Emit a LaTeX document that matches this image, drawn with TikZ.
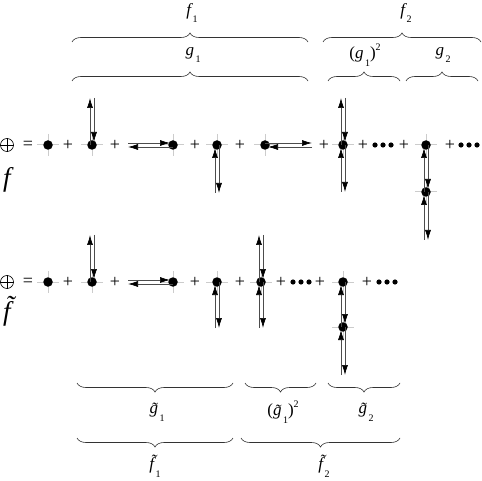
\documentclass[tikz,border=0pt]{standalone}
\usepackage{fontspec}
\setmainfont{Liberation Serif}
\usetikzlibrary{arrows.meta,decorations.pathreplacing,calc}

% lowered index and superscript for the labels
\newcommand{\idx}[1]{\kern1.5pt\raisebox{-0.45em}{\fontsize{10}{11}\selectfont\upshape #1}}
\newcommand{\pw}[1]{\raisebox{0.5em}{\fontsize{10}{11}\selectfont\upshape #1}}

% vertex: name, x, y (grey legs first, dot on top)
\newcommand{\vertex}[3]{%
  \draw[leg] (#2,#3) ++(-11,0) -- ++(22,0) (#2,#3) ++(0,-11) -- ++(0,22);
  \node[vtx] (#1) at (#2,#3) {};}
% propagator loop from vertex #1 to point #2 (out on the left, back on the right)
\newcommand{\proploop}[3][0pt]{%
  \draw[prop,shorten >=#1] ($(#2.center)!2pt!90:(#3)$) -- ($(#3)!2pt!-90:(#2.center)$);
  \draw[prop,shorten >=3pt] ($(#3)!2pt!90:(#2.center)$) -- ($(#2.center)!2pt!-90:(#3)$);}

\begin{document}
\begin{tikzpicture}[x=1pt,y=-1pt,
  vtx/.style={circle,fill,inner sep=0pt,minimum size=9.5pt},
  leg/.style={draw=gray!40,line width=1pt},
  prop/.style={black!70,line width=0.7pt,-{Latex[length=10pt,width=6pt,fill=black,color=black]}},
  plus/.style={font=\fontsize{18}{18}\selectfont},
  brc/.style={decorate,decoration={brace,amplitude=9pt},line width=0.6pt,black!80},
  lbl/.style={font=\fontsize{17}{19}\selectfont\itshape},
  big/.style={font=\fontsize{27}{29}\selectfont\itshape}]
\useasboundingbox[fill=white] (0,0) rectangle (482,481);

% Row f
\node[circle,draw,inner sep=0pt,minimum size=13pt,line width=0.6pt] (oa) at (7,145) {};
\draw[line width=0.6pt] (oa.north) -- (oa.south) (oa.west) -- (oa.east);
\node[plus] (eqa) at (28,145) {=};
\node[big] (fa) at (7,180) {f};
\vertex{a1}{48}{145}
\vertex{a2}{92}{145}
\vertex{a3}{173}{145}
\vertex{a4}{217}{145}
\vertex{a5}{265}{145}
\vertex{a6}{343}{145}
\vertex{a7}{426}{145}
\vertex{a8}{426}{192}
\coordinate (a2e) at (92,98);
\coordinate (a3e) at (128,145);
\coordinate (a4e) at (217,193);
\coordinate (a5e) at (312,145);
\coordinate (a6u) at (343,98);
\coordinate (a6d) at (343,192);
\coordinate (a8e) at (426,240);
\proploop{a2}{a2e}
\proploop{a3}{a3e}
\proploop{a4}{a4e}
\proploop{a5}{a5e}
\proploop{a6}{a6u}
\proploop{a6}{a6d}
\proploop[3pt]{a7}{a8.center}
\proploop{a8}{a8e}
\foreach \x [count=\i] in {68,115,195,240,324,363,404,450}
  \node[plus] (pa\i) at (\x,145) {+};
\foreach \x in {375,383,391,461,469,477}
  \fill (\x,145) circle (2.6);

% Row f tilde
\node[circle,draw,inner sep=0pt,minimum size=13pt,line width=0.6pt] (ob) at (7,282) {};
\draw[line width=0.6pt] (ob.north) -- (ob.south) (ob.west) -- (ob.east);
\node[plus] (eqb) at (28,282) {=};
\node[big] (fb) at (7,311) {\~{f}};
\vertex{b1}{48}{282}
\vertex{b2}{92}{282}
\vertex{b3}{173}{282}
\vertex{b4}{217}{282}
\vertex{b5}{261}{282}
\vertex{b6}{343}{282}
\vertex{b7}{343}{327}
\coordinate (b2e) at (92,235);
\coordinate (b3e) at (128,282);
\coordinate (b4e) at (217,328);
\coordinate (b5u) at (261,235);
\coordinate (b5d) at (261,328);
\coordinate (b7e) at (343,375);
\proploop{b2}{b2e}
\proploop{b3}{b3e}
\proploop{b4}{b4e}
\proploop{b5}{b5u}
\proploop{b5}{b5d}
\proploop[3pt]{b6}{b7.center}
\proploop{b7}{b7e}
\foreach \x [count=\i] in {68,115,195,240,281,320,367}
  \node[plus] (pb\i) at (\x,282) {+};
\foreach \x in {293,301,309,379,387,395}
  \fill (\x,282) circle (2.6);

% Braces above
\draw[brc] (72,42) -- (308,42);
\draw[brc] (323,42) -- (481,42);
\draw[brc] (72,81) -- (308,81);
\draw[brc] (328,81) -- (400,81);
\draw[brc] (406,81) -- (478,81);
\node[lbl] (lf1) at (192,13) {f\idx{1}};
\node[lbl] (lf2) at (406,13) {f\idx{2}};
\node[lbl] (lg1) at (193,55) {g\idx{1}};
\node[lbl] (lgg) at (365,55) {\upshape(\itshape g\idx{1}\upshape)\pw{2}};
\node[lbl] (lg2) at (443,55) {g\idx{2}};

% Braces below
\draw[brc] (233,383) -- (77,383);
\draw[brc] (316,383) -- (245,383);
\draw[brc] (400,383) -- (328,383);
\draw[brc] (233,438) -- (77,438);
\draw[brc] (400,438) -- (241,438);
\node[lbl] (lh1) at (157,412) {\~{g}\idx{1}};
\node[lbl] (lhh) at (283,412) {\upshape(\itshape\~{g}\idx{1}\upshape)\pw{2}};
\node[lbl] (lh2) at (366,412) {\~{g}\idx{2}};
\node[lbl] (lk1) at (155,466) {\~{f}\idx{1}};
\node[lbl] (lk2) at (324,466) {\~{f}\idx{2}};
\end{tikzpicture}
\end{document}
